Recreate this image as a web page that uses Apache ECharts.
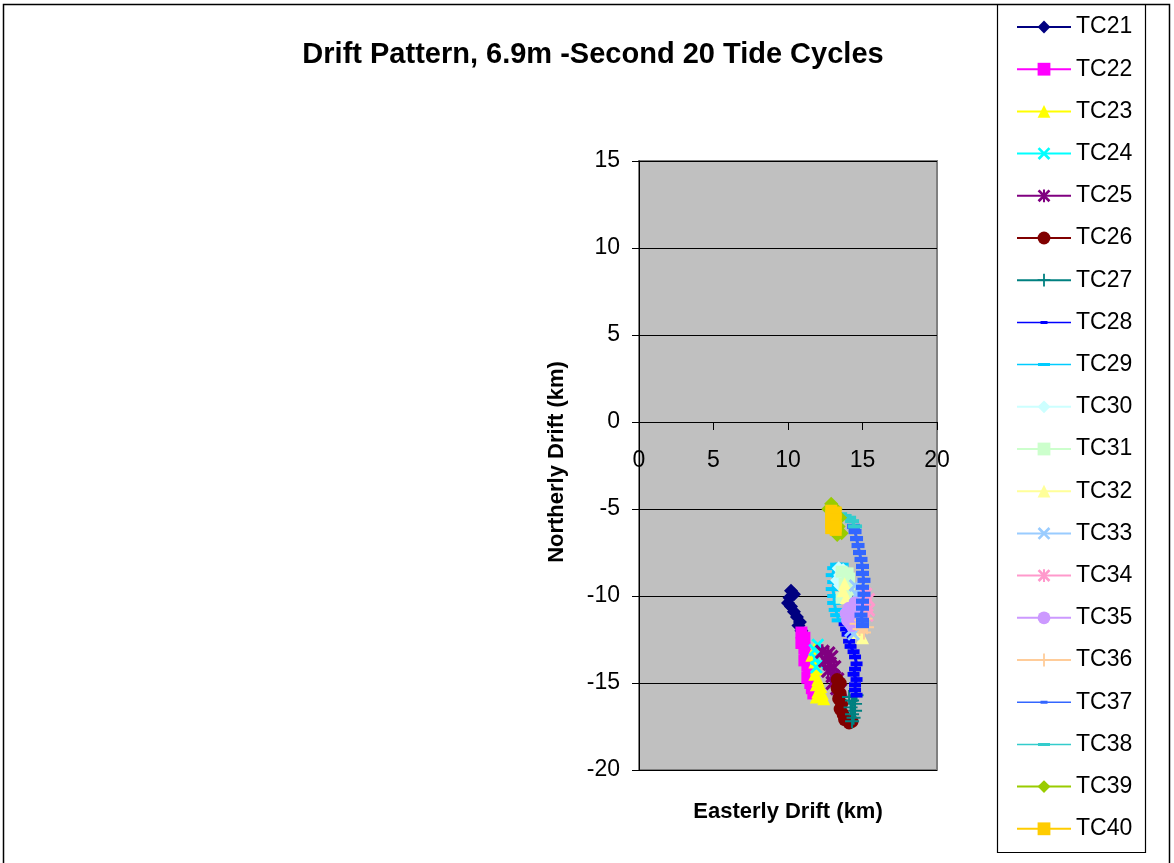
<!DOCTYPE html>
<html>
<head>
<meta charset="utf-8">
<script src="https://cdn.jsdelivr.net/npm/echarts@6/dist/echarts.min.js"></script>
<style>
html,body{margin:0;padding:0;background:#fff;}
#chart{width:1174px;height:863px;}
</style>
</head>
<body>
<div id="chart"></div>
<script>
// ---- Data (Easterly km, Northerly km) ----
const seriesNames = ['TC21','TC22','TC23','TC24','TC25','TC26','TC27','TC28','TC29','TC30',
                     'TC31','TC32','TC33','TC34','TC35','TC36','TC37','TC38','TC39','TC40'];
const xTicks = [0, 5, 10, 15, 20];
const yTicks = [-20, -15, -10, -5, 0, 5, 10, 15];

const tc21 = [[10.2,-9.7],[10.4,-9.9],[10.1,-10.1],[10.0,-10.4],[10.2,-10.6],[10.4,-10.9],[10.6,-11.2],[10.8,-11.5],[10.7,-11.7],[10.9,-12.0]];
const tc22 = [[10.9,-12.1],[11.1,-12.4],[10.9,-12.7],[11.1,-13.0],[11.2,-13.4],[11.1,-13.7],[11.3,-14.0],[11.4,-14.4],[11.3,-14.7],[11.5,-15.0],[11.6,-15.3],[11.7,-15.6]];
const tc23 = [[11.8,-13.0],[11.6,-13.4],[11.8,-13.8],[11.9,-14.2],[11.8,-14.5],[12.0,-14.8],[11.9,-15.1],[12.2,-15.2],[12.0,-15.5],[12.3,-15.6],[11.9,-15.8],[12.4,-15.9]];
const tc24 = [[12.0,-12.8],[11.8,-13.1],[12.1,-13.3],[11.9,-13.6],[12.1,-13.9],[11.9,-14.1]];
const tc25 = [[12.3,-13.2],[12.7,-13.3],[12.9,-13.5],[12.5,-13.7],[12.8,-13.9],[13.1,-14.1],[12.7,-14.3],[13.0,-14.6],[13.3,-14.8],[13.0,-15.0],[13.3,-15.3],[13.5,-15.4]];
const tc26 = [[13.3,-14.8],[13.5,-15.0],[13.3,-15.3],[13.5,-15.6],[13.4,-15.9],[13.6,-16.2],[13.5,-16.5],[13.7,-16.8],[13.8,-17.1],[14.1,-17.3],[14.3,-17.2]];
const tc27 = [[14.1,-15.8],[14.6,-15.7],[14.3,-16.0],[14.5,-16.2],[14.2,-16.4],[14.5,-16.6],[14.3,-16.8],[14.4,-17.0],[14.3,-17.2]];
const tc28 = [[13.8,-11.6],[13.9,-11.9],[14.0,-12.2],[14.1,-12.6],[14.2,-12.9],[14.4,-13.2],[14.5,-13.5],[14.6,-13.9],[14.5,-14.2],[14.4,-14.5],[14.6,-14.8],[14.5,-15.1],[14.5,-15.4],[14.6,-15.7]];
const tc29 = [[13.6,-8.2],[13.3,-8.2],[13.1,-8.4],[13.0,-8.8],[13.1,-9.2],[13.0,-9.6],[13.1,-10.0],[13.1,-10.4],[13.2,-10.8],[13.3,-11.1],[13.4,-11.4]];
const tc30 = [[13.4,-8.4],[13.7,-8.5],[13.5,-8.8],[13.3,-9.1],[13.5,-9.4]];
const tc31 = [[13.6,-8.6],[14.0,-8.7],[14.1,-9.0],[13.8,-9.3],[14.1,-9.6],[13.9,-9.9],[13.6,-10.1]];
const tc32 = [[13.8,-9.3],[13.7,-9.7],[13.9,-10.1],[14.0,-10.6],[14.2,-11.1],[14.4,-11.6],[14.7,-12.1],[15.0,-12.4]];
const tc33 = [[14.5,-9.4],[14.8,-9.6],[14.6,-9.9],[14.9,-10.2],[14.5,-10.5],[14.3,-11.5],[14.2,-12.0],[14.4,-12.2]];
const tc34 = [[15.2,-9.9],[15.4,-10.2],[15.2,-10.5],[15.4,-10.8],[15.3,-11.1]];
const tc35 = [[14.5,-10.4],[14.1,-10.7],[13.9,-11.0],[14.0,-11.4],[14.3,-11.7],[14.6,-11.2]];
const tc36 = [[15.2,-11.3],[14.9,-11.4],[14.6,-11.6],[14.8,-11.9],[15.1,-12.1],[15.3,-11.8]];
const tc37 = [[14.4,-6.0],[14.5,-6.3],[14.6,-6.7],[14.7,-7.1],[14.8,-7.5],[14.9,-7.9],[15.0,-8.3],[15.0,-8.7],[15.1,-9.1],[15.0,-9.5],[15.1,-9.9],[15.0,-10.3],[15.0,-10.7],[14.9,-11.1],[15.0,-11.4],[15.0,-11.7]];
const tc38 = [[13.5,-5.3],[13.8,-5.4],[14.1,-5.5],[14.3,-5.7],[14.5,-6.0]];
const tc39 = [[12.9,-4.7],[12.7,-5.0],[13.2,-5.0],[13.5,-5.5],[13.4,-6.0],[13.6,-6.4],[13.3,-6.5]];
const tc40 = [[12.9,-5.1],[13.2,-5.2],[12.9,-5.4],[13.2,-5.6],[12.9,-5.8],[13.2,-6.0],[12.9,-6.1],[13.2,-6.2]];

const seriesData = [tc21,tc22,tc23,tc24,tc25,tc26,tc27,tc28,tc29,tc30,tc31,tc32,tc33,tc34,tc35,tc36,tc37,tc38,tc39,tc40];

// ---- Styles ----
const colors = ['#000080','#FF00FF','#FFFF00','#00FFFF','#800080','#800000','#008080','#0000FF','#00CCFF','#CCFFFF',
                '#CCFFCC','#FFFF99','#99CCFF','#FF99CC','#CC99FF','#FFCC99','#3366FF','#33CCCC','#99CC00','#FFCC00'];
const X_PATH = 'path://M0,1.5L1.5,0L5,3.5L8.5,0L10,1.5L6.5,5L10,8.5L8.5,10L5,6.5L1.5,10L0,8.5L3.5,5Z';
const STAR_PATH = 'path://M0,1.5L1.5,0L5,3.5L8.5,0L10,1.5L6.5,5L10,8.5L8.5,10L5,6.5L1.5,10L0,8.5L3.5,5Z M4.2,0H5.8V10H4.2Z';
const PLUS_PATH = 'path://M4.3,0H5.7V4.3H10V5.7H5.7V10H4.3V5.7H0V4.3H4.3Z';
const DASH_S = 'path://M0,0H10V4H0Z';
const DASH_L = 'path://M0,0H14V4H0Z';
const markers = [
  ['diamond',14],['rect',12],['triangle',13],[X_PATH,13],[STAR_PATH,15],['circle',13],[PLUS_PATH,14],[DASH_S,12],[DASH_L,14],['diamond',14],
  ['rect',12],['triangle',13],[X_PATH,13],[STAR_PATH,14],['circle',13],[PLUS_PATH,14],[DASH_S,13],[DASH_L,14],['diamond',14],['rect',12]
];
// legend icons for the dash-marker series (line + small dash), drawn in a 54-wide box
const LEG_DASH_S = 'path://M0,1.75H54V3.25H0Z M23.5,1H30.5V4H23.5Z';
const LEG_DASH_L = 'path://M0,1.75H54V3.25H0Z M21,1H33V4H21Z';
const legendIcons = { TC28: LEG_DASH_S, TC29: LEG_DASH_L, TC37: LEG_DASH_S, TC38: LEG_DASH_L };

const FONT = '"Liberation Sans", Arial, sans-serif';

const series = seriesNames.map((name, i) => ({
  name: name,
  type: 'line',
  data: seriesData[i],
  symbol: markers[i][0],
  symbolSize: markers[i][1],
  symbolKeepAspect: true,
  showAllSymbol: true,
  color: colors[i],
  itemStyle: { color: colors[i], borderColor: colors[i], borderWidth: 0 },
  lineStyle: { color: colors[i], width: 3 },
  emphasis: { disabled: true },
  z: 2 + i * 0.01,
  animation: false
}));

const legendData = seriesNames.map(n => legendIcons[n] ? { name: n, icon: legendIcons[n] } : { name: n });

const chart = echarts.init(document.getElementById('chart'), null, { renderer: 'canvas' });
chart.setOption({
  animation: false,
  backgroundColor: '#ffffff',
  title: {
    text: 'Drift Pattern, 6.9m -Second 20 Tide Cycles',
    left: 588, top: 35, textAlign: 'center',
    textStyle: { fontFamily: FONT, fontSize: 29, fontWeight: 'bold', color: '#000' }
  },
  grid: {
    left: 639, top: 161, width: 298, height: 609,
    show: true, backgroundColor: '#C0C0C0', borderColor: '#808080', borderWidth: 2,
    containLabel: false
  },
  legend: {
    orient: 'vertical', left: 1016, top: 15, padding: 0,
    itemWidth: 54, itemHeight: 16, itemGap: 18.2,
    symbolKeepAspect: true,
    textStyle: { fontFamily: FONT, fontSize: 23, color: '#000', lineHeight: 24 },
    data: legendData
  },
  xAxis: {
    type: 'value', min: 0, max: 20, interval: 5,
    position: 'bottom', offset: -348,
    axisLine: { show: true, onZero: false, lineStyle: { color: '#000', width: 1 } },
    axisTick: { show: true, inside: false, length: 8, lineStyle: { color: '#000' } },
    axisLabel: { fontFamily: FONT, fontSize: 23, color: '#000', margin: 27, showMinLabel: true, showMaxLabel: true,
                 formatter: v => String(v) },
    splitLine: { show: false }
  },
  yAxis: {
    type: 'value', min: -20, max: 15, interval: 5,
    axisLine: { show: true, onZero: false, lineStyle: { color: '#000', width: 1 } },
    axisTick: { show: true, inside: false, length: 7, lineStyle: { color: '#000' } },
    axisLabel: { fontFamily: FONT, fontSize: 23, color: '#000', margin: 19, showMinLabel: true, showMaxLabel: true },
    splitLine: { show: true, lineStyle: { color: '#000', width: 1 } }
  },
  graphic: [
    { type: 'rect', shape: { x: 3.5, y: 4.5, width: 1166, height: 900 }, style: { fill: 'none', stroke: '#000', lineWidth: 1.5 }, silent: true, z: -1 },
    { type: 'rect', shape: { x: 997.5, y: 4.5, width: 148, height: 848 }, style: { fill: 'none', stroke: '#000', lineWidth: 1.2 }, silent: true, z: -1 },
    { type: 'text', x: 788, y: 812, style: { text: 'Easterly Drift (km)', fontFamily: FONT, fontSize: 22, fontWeight: 'bold', fill: '#000', textAlign: 'center', textVerticalAlign: 'middle' }, silent: true },
    { type: 'text', x: 557, y: 462, rotation: Math.PI / 2, style: { text: 'Northerly Drift (km)', fontFamily: FONT, fontSize: 22, fontWeight: 'bold', fill: '#000', textAlign: 'center', textVerticalAlign: 'middle' }, silent: true }
  ],
  series: series
});
</script>
</body>
</html>
